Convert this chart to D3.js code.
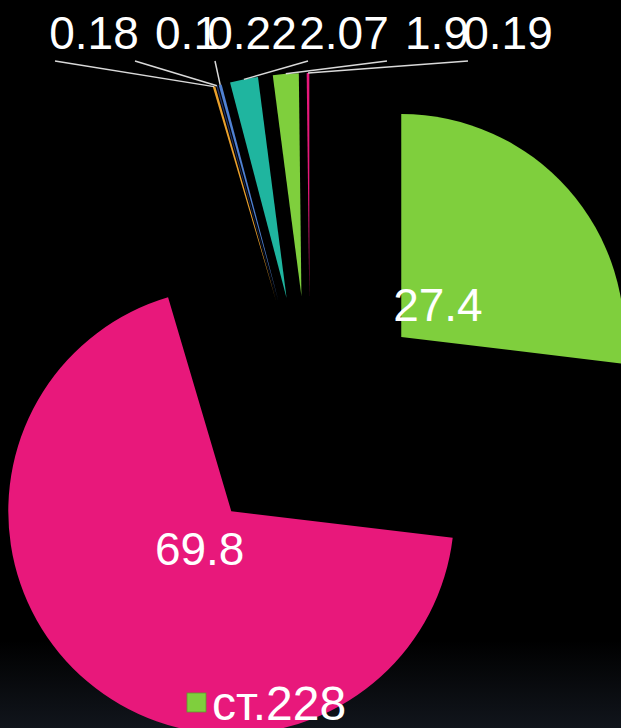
<!DOCTYPE html>
<html>
<head>
<meta charset="utf-8">
<script src="https://cdn.jsdelivr.net/npm/d3@7/dist/d3.min.js"></script>
<style>
  html, body { margin: 0; padding: 0; background: #000; overflow: hidden; }
  svg { display: block; font-family: "Liberation Sans", Arial, sans-serif; }
</style>
</head>
<body>
<div id="chart"></div>
<script>
// slice values, in drawing order (clockwise from 12 o'clock)
const values = [27.4, 69.8, 0.18, 0.1, 0.22, 2.07, 1.9, 0.19]
const valueLabels = ["27.4", "69.8", "0.18", "0.1", "0.22", "2.07", "1.9", "0.19"]
const legendItems = ["ст.228"]
const palette = ["#7fcf3d", "#e8187b", "#eba12c", "#22336b", "#4f80d2", "#1fb59f"]

const WIDTH = 621
const HEIGHT = 728
const CENTER = {x: 310, y: 418}
const RADIUS = 223
const EXPLODE = 122
const INSIDE_LABEL_RADIUS = 171
const FONT_SIZE = 46
// x centre of each outside label and x where its leader starts (small slices only)
const OUTSIDE_LABEL_X = [94, 187, 252, 344, 437, 508]
const LEADER_START_X = [55, 135, 215, 308, 387, 468]
const OUTSIDE_LABEL_BASELINE = 49
const LEADER_START_Y = 61

/*********************************************
// Helpers
*********************************************/
function midAngle(d) {
  return (d.startAngle + d.endAngle) / 2
}

function polar(angle, r) {
  return [Math.sin(angle) * r, -Math.cos(angle) * r]
}

/*********************************************
// Drawing
*********************************************/
function createSVG(elementId) {
  return d3.select(`#${elementId}`)
    .append("svg")
    .attr("width", WIDTH)
    .attr("height", HEIGHT)
}

function drawBackground(svg) {
  const grad = svg.append("defs").append("linearGradient")
    .attr("id", "bg")
    .attr("x1", 0).attr("y1", 0).attr("x2", 0).attr("y2", 1)
  grad.append("stop").attr("offset", "0").attr("stop-color", "#000")
  grad.append("stop").attr("offset", "0.88").attr("stop-color", "#000")
  grad.append("stop").attr("offset", "1").attr("stop-color", "#11151c")

  svg.append("rect")
    .attr("width", WIDTH)
    .attr("height", HEIGHT)
    .attr("fill", "url(#bg)")
}

function drawSlices(g, arcs) {
  const arc = d3.arc().innerRadius(0).outerRadius(RADIUS)

  g.selectAll("path.slice")
    .data(arcs).enter()
    .append("path")
    .classed("slice", true)
    .attr("d", arc)
    .attr("fill", (_, i) => palette[i % palette.length])
    .attr("transform", (d) => {
      const [dx, dy] = polar(midAngle(d), EXPLODE)
      return `translate(${dx},${dy})`
    })
}

function drawInsideLabels(g, arcs) {
  g.selectAll("text.inside-label")
    .data(arcs.filter((d) => d.value > 10)).enter()
    .append("text")
    .classed("inside-label", true)
    .text((d) => valueLabels[d.index])
    .attr("x", (d) => polar(midAngle(d), INSIDE_LABEL_RADIUS)[0])
    .attr("y", (d) => polar(midAngle(d), INSIDE_LABEL_RADIUS)[1])
    .attr("text-anchor", "middle")
    .attr("dominant-baseline", "central")
    .attr("fill", "#fff")
    .attr("font-size", FONT_SIZE)
}

function drawOutsideLabels(svg, arcs) {
  const small = arcs.filter((d) => d.value <= 10)

  svg.selectAll("line.leader")
    .data(small).enter()
    .append("line")
    .classed("leader", true)
    .attr("x1", (_, i) => LEADER_START_X[i])
    .attr("y1", LEADER_START_Y)
    .attr("x2", (d) => CENTER.x + polar(midAngle(d), RADIUS + EXPLODE)[0])
    .attr("y2", (d) => CENTER.y + polar(midAngle(d), RADIUS + EXPLODE)[1])
    .attr("stroke", "#d9d9d9")
    .attr("stroke-width", 1.5)

  svg.selectAll("text.outside-label")
    .data(small).enter()
    .append("text")
    .classed("outside-label", true)
    .text((d) => valueLabels[d.index])
    .attr("x", (_, i) => OUTSIDE_LABEL_X[i])
    .attr("y", OUTSIDE_LABEL_BASELINE)
    .attr("text-anchor", "middle")
    .attr("fill", "#fff")
    .attr("font-size", FONT_SIZE)
}

function drawLegend(svg) {
  const item = svg.selectAll("g.legend")
    .data(legendItems).enter()
    .append("g")
    .classed("legend", true)
    .attr("transform", "translate(187,693)")

  item.append("rect")
    .attr("width", 19)
    .attr("height", 19)
    .attr("fill", (_, i) => palette[i])
    .attr("stroke", "#5f9a2c")
    .attr("stroke-width", 0.8)

  item.append("text")
    .text((d) => d)
    .attr("x", 25)
    .attr("y", 27)
    .attr("fill", "#fff")
    .attr("font-size", 48)
}

function draw() {
  const svg = createSVG("chart")
  drawBackground(svg)

  const arcs = d3.pie().sort(null).value((d) => d)(values)
  const pieG = svg.append("g")
    .attr("transform", `translate(${CENTER.x},${CENTER.y})`)

  drawSlices(pieG, arcs)
  drawInsideLabels(pieG, arcs)
  drawOutsideLabels(svg, arcs)
  drawLegend(svg)
}

draw()
</script>
</body>
</html>
